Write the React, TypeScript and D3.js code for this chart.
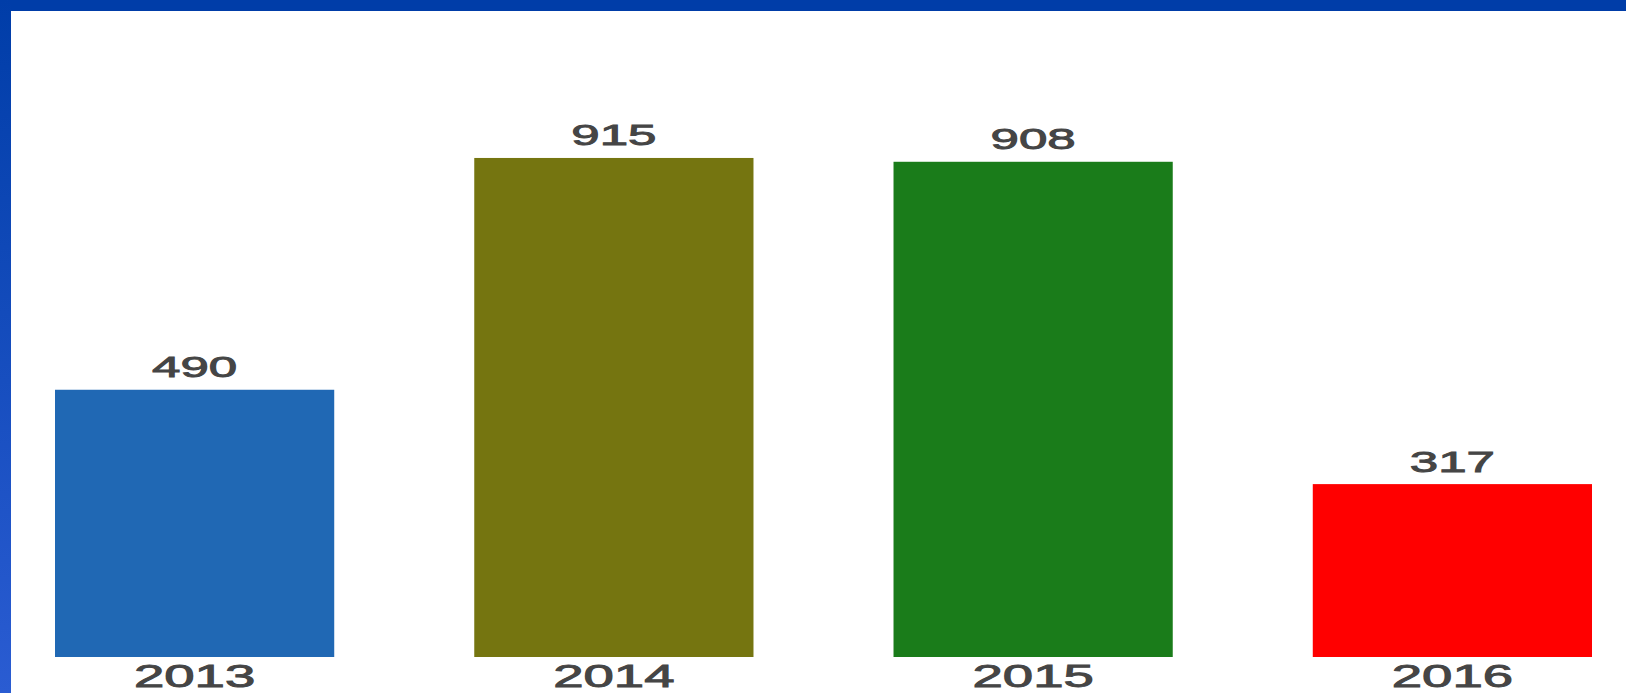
import React from "react";
import * as d3 from "d3";

const years = ["2013", "2014", "2015", "2016"];
const values = [490, 915, 908, 317];
const colors = ["#2068b4", "#757510", "#1a7c1a", "#ff0000"];

const W = 1626;
const H = 693;

export default function App() {
  const x = d3.scaleBand<string>().domain(years).range([55, 1592]).paddingInner(0.334).paddingOuter(0);
  const y = d3.scaleLinear().domain([0, 1000]).range([657, 111.6]);
  const sx = 1.76;
  return (
    <svg width={W} height={H} style={{ position: "absolute", left: 0, top: 0, background: "#fff" }}
      fontFamily="'Liberation Sans', Arial, sans-serif">
      <defs>
        <linearGradient id="lg" x1="0" y1="0" x2="0" y2="1">
          <stop offset="0" stopColor="#003da8" />
          <stop offset="1" stopColor="#2a5cd2" />
        </linearGradient>
      </defs>
      <rect x={0} y={0} width={W} height={H} fill="#fff" />
      <rect x={0} y={0} width={W} height={11} fill="#003da8" />
      <rect x={0} y={0} width={11} height={H} fill="url(#lg)" />
      {years.map((yr, i) => {
        const bx = x(yr)!;
        const cx = bx + x.bandwidth() / 2;
        const top = y(values[i]);
        return (
          <g key={yr}>
            <rect x={bx} y={top} width={x.bandwidth()} height={y(0) - top} fill={colors[i]} />
            <g transform={`translate(${cx},${top - 12.5}) scale(${sx},1)`}>
              <text textAnchor="middle" fontSize={29} fill="#454545" stroke="#454545" strokeWidth={0.9}>{values[i]}</text>
            </g>
            <g transform={`translate(${cx},${y(0) + 30}) scale(${sx},1)`}>
              <text textAnchor="middle" fontSize={31} fill="#454545" stroke="#454545" strokeWidth={0.9}>{yr}</text>
            </g>
          </g>
        );
      })}
    </svg>
  );
}
